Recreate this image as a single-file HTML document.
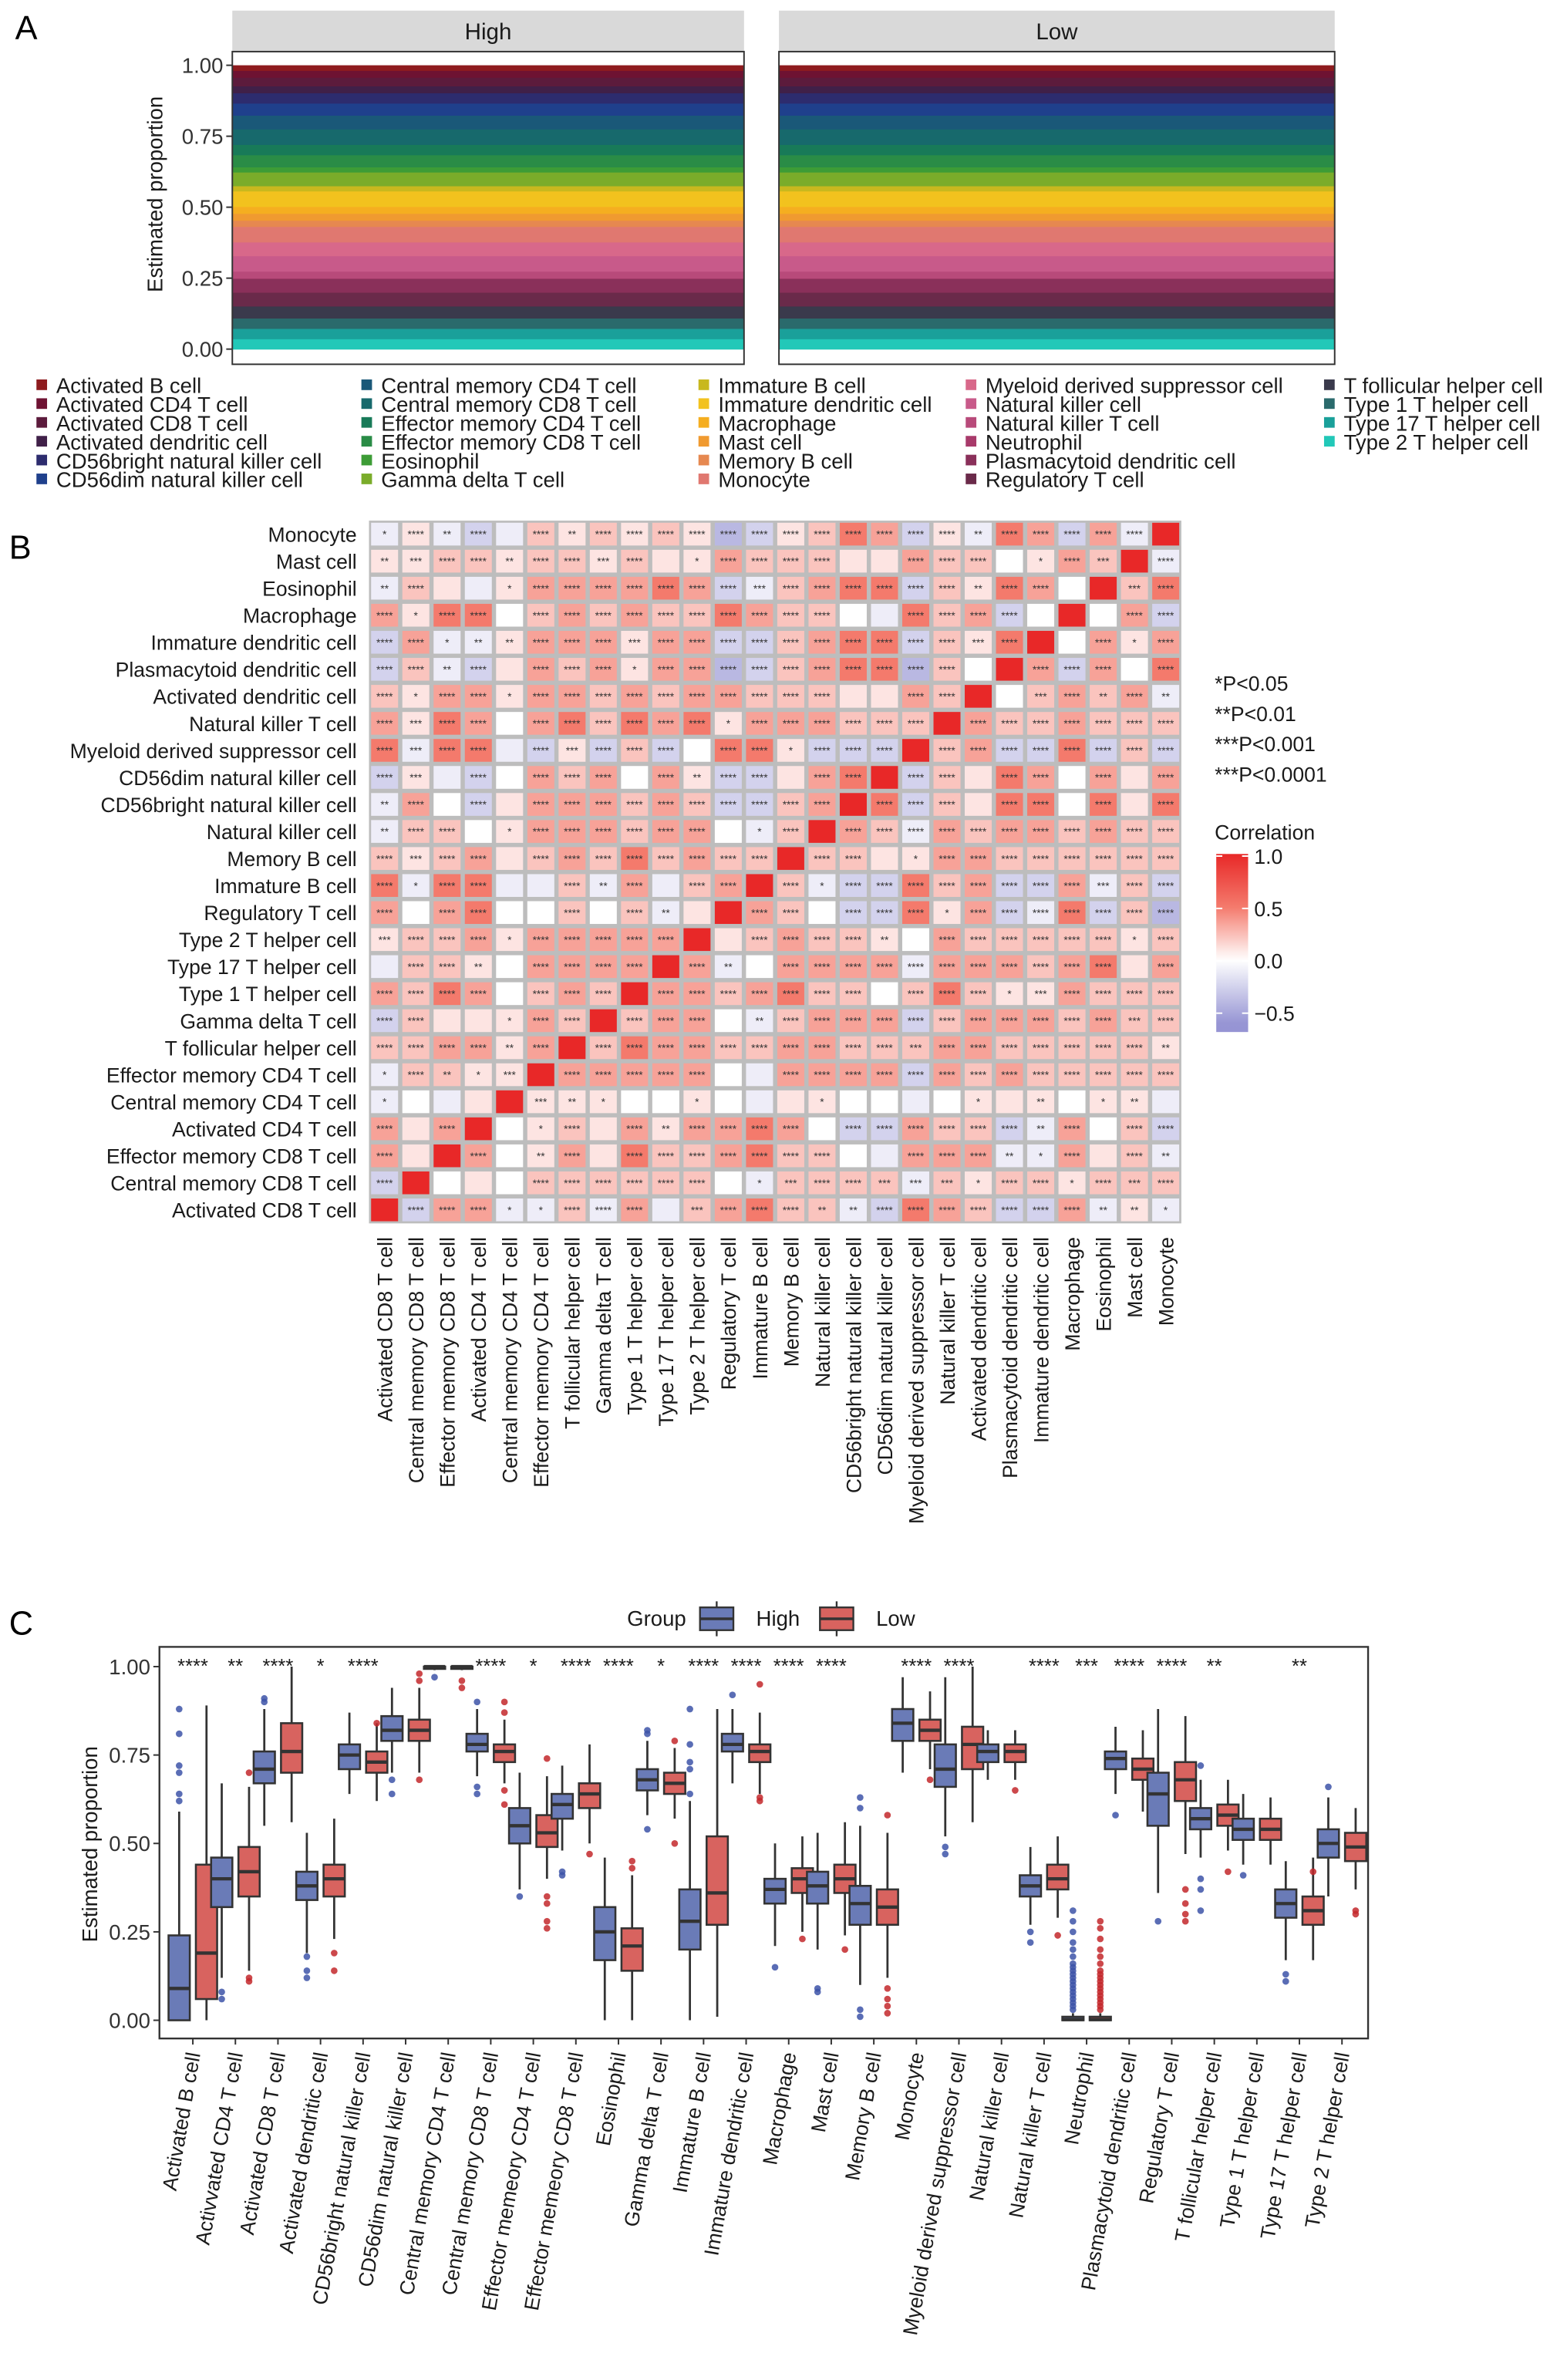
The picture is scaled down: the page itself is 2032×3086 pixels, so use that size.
<!DOCTYPE html>
<html><head><meta charset="utf-8"><style>
html,body{margin:0;padding:0;background:#fff;}
svg{display:block;font-family:"Liberation Sans",sans-serif;}
</style></head><body>
<svg id="root" xmlns="http://www.w3.org/2000/svg" width="2032" height="3086" viewBox="0 0 1032 1568" preserveAspectRatio="none">
<rect x="0" y="0" width="1032" height="1568" fill="#fff"/>
<text x="10" y="26" font-size="22">A</text>
<text x="6" y="368" font-size="22">B</text>
<text x="6" y="1077" font-size="22">C</text>
<g id="panelA"></g>
<g id="panelB"></g>
<g id="panelC"></g>
</svg>
<script>
const NS="http://www.w3.org/2000/svg";
function mk(parent,tag,attrs,text){const e=document.createElementNS(NS,tag);for(const k in attrs)e.setAttribute(k,attrs[k]);if(text!==undefined)e.textContent=text;parent.appendChild(e);return e;}

// ---------- Panel A data ----------
const cellTypes=["Activated B cell","Activated CD4 T cell","Activated CD8 T cell","Activated dendritic cell","CD56bright natural killer cell","CD56dim natural killer cell","Central memory CD4 T cell","Central memory CD8 T cell","Effector memory CD4 T cell","Effector memory CD8 T cell","Eosinophil","Gamma delta T cell","Immature B cell","Immature dendritic cell","Macrophage","Mast cell","Memory B cell","Monocyte","Myeloid derived suppressor cell","Natural killer cell","Natural killer T cell","Neutrophil","Plasmacytoid dendritic cell","Regulatory T cell","T follicular helper cell","Type 1 T helper cell","Type 17 T helper cell","Type 2 T helper cell"];
const cellColors=["#8e1b1e","#6e1232","#5c1b3c","#402048","#2d2c6e","#1f408c","#1a5878","#17696c","#187a58","#2a8c46","#3d9c36","#7aac2a","#c8b81e","#f2c21e","#f5ae20","#f09a30","#e68850","#e07870","#d8688a","#c85a8a","#b84a7a","#a83a6a","#8a305a","#6a2a4a","#3a3a4c","#2a6a6c","#1aa09a","#22c8b8"];
const highProps=[0.015,0.02,0.025,0.02,0.03,0.035,0.04,0.045,0.03,0.035,0.015,0.04,0.015,0.045,0.02,0.02,0.018,0.045,0.04,0.045,0.02,0.001,0.04,0.04,0.035,0.03,0.03,0.03];
const lowProps=[0.015,0.02,0.025,0.02,0.03,0.035,0.04,0.045,0.03,0.035,0.015,0.04,0.015,0.045,0.02,0.02,0.018,0.045,0.04,0.045,0.02,0.001,0.04,0.04,0.035,0.03,0.03,0.03];
const aTicks=[0,0.25,0.5,0.75,1];
const aTickLabels=["0.00","0.25","0.50","0.75","1.00"];

(function(){
const g=document.getElementById('panelA');
const yA=v=>230-v*187;
const panels=[{name:"High",x0:153,x1:490,p:highProps},{name:"Low",x0:513,x1:879,p:lowProps}];
panels.forEach(P=>{
  const s=mk(g,'rect',{x:P.x0,y:7,width:P.x1-P.x0,height:27,fill:'#d9d9d9'});
  
  
  const t=mk(g,'text',{x:(P.x0+P.x1)/2,y:26,'font-size':15,'text-anchor':'middle',fill:'#1a1a1a'},P.name);
  
  
  const tot=P.p.reduce((a,b)=>a+b,0);
  let cum=0;
  for(let i=P.p.length-1;i>=0;i--){
    const v0=cum/tot,v1=(cum+P.p[i])/tot;cum+=P.p[i];
    const r=mk(g,'rect',{x:P.x0,y:yA(v1),width:P.x1-P.x0,height:yA(v0)-yA(v1)+0.3,fill:cellColors[i]});
    
    
  }
  mk(g,'rect',{x:P.x0,y:34,width:P.x1-P.x0,height:206,fill:'none',stroke:'#333','stroke-width':1});
});
aTicks.forEach((v,i)=>{
  mk(g,'line',{x1:149,x2:153,y1:yA(v),y2:yA(v),stroke:'#333'});
  const t=mk(g,'text',{x:147,y:yA(v)+5,'font-size':14,'text-anchor':'end',fill:'#333'},aTickLabels[i]);
  
  
});
const yt=mk(g,'text',{x:0,y:0,'font-size':14,'text-anchor':'middle',transform:'translate(107,128) rotate(-90)',fill:'#1a1a1a'},'Estimated proportion');


const cols=[[24,0,6],[238,6,12],[460,12,18],[636,18,24],[872,24,28]];
cols.forEach(c=>{
  for(let i=c[1];i<c[2];i++){
    const y=254+(i-c[1])*12.4;
    const sq=mk(g,'rect',{x:c[0],y:y-4,width:7,height:7,fill:cellColors[i]});
    
    
    const t=mk(g,'text',{x:c[0]+13,y:y+5,'font-size':14,fill:'#1a1a1a'},cellTypes[i]);
    
    
  }
});
})();

// ---------- Panel B data ----------
const heatRows=["Monocyte","Mast cell","Eosinophil","Macrophage","Immature dendritic cell","Plasmacytoid dendritic cell","Activated dendritic cell","Natural killer T cell","Myeloid derived suppressor cell","CD56dim natural killer cell","CD56bright natural killer cell","Natural killer cell","Memory B cell","Immature B cell","Regulatory T cell","Type 2 T helper cell","Type 17 T helper cell","Type 1 T helper cell","Gamma delta T cell","T follicular helper cell","Effector memory CD4 T cell","Central memory CD4 T cell","Activated CD4 T cell","Effector memory CD8 T cell","Central memory CD8 T cell","Activated CD8 T cell"];
const heatCols=heatRows.slice().reverse();
const corrLevels={D:1,R:0.5,r:0.35,p:0.22,q:0.1,w:0,b:-0.1,B:-0.25,V:-0.4};
const corrCells=[
"b1 q4 b2 B4 b0 p4 q2 p4 q4 p4 q4 V4 B4 q4 p4 R4 r4 B4 q4 b2 R4 r4 B4 r4 b4 D0",
"q2 q3 p4 p4 q2 p4 p4 q3 p4 q0 q1 r4 p4 p4 p4 q0 q0 r4 p4 p4 w0 q1 r4 p3 D0 b4",
"b2 p4 q0 b0 q1 r4 r4 r4 r4 R4 r4 B4 b3 p4 r4 R4 R4 B4 p4 q2 R4 r4 w0 D0 p3 R4",
"r4 q1 R4 R4 w0 p4 r4 p4 r4 p4 p4 R4 r4 p4 p4 w0 b0 R4 p4 r4 B4 w0 D0 w0 r4 B4",
"B4 r4 b1 b2 q2 r4 r4 r4 q3 r4 r4 B4 B4 p4 r4 R4 R4 B4 p4 q3 R4 D0 w0 r4 q1 r4",
"B4 p4 b2 B4 q0 r4 p4 r4 q1 r4 r4 V4 B4 p4 r4 R4 R4 V4 p4 w0 D0 r4 B4 r4 w0 R4",
"p4 q1 r4 r4 q1 r4 r4 p4 r4 p4 r4 r4 p4 p4 p4 q0 q0 r4 p4 D0 w0 p3 r4 p2 r4 b2",
"r4 q3 R4 r4 w0 r4 R4 p4 R4 r4 R4 q1 r4 r4 r4 p4 p4 p4 D0 r4 p4 p4 r4 p4 p4 p4",
"R4 b3 R4 R4 b0 B4 q3 B4 p4 B4 w0 R4 R4 q1 B4 B4 B4 D0 p4 r4 B4 B4 R4 B4 p4 B4",
"B4 q3 b0 B4 w0 r4 p4 r4 w0 r4 q2 B4 B4 q0 r4 R4 D0 B4 p4 q0 R4 r4 w0 r4 q0 r4",
"b2 r4 w0 B4 q0 r4 r4 r4 p4 r4 p4 B4 B4 p4 r4 D0 R4 B4 p4 q0 R4 R4 w0 R4 q0 R4",
"b2 p4 p4 w0 q1 r4 r4 r4 p4 r4 r4 w0 b1 p4 D0 r4 p4 b4 r4 p4 r4 r4 p4 r4 p4 p4",
"p4 q3 p4 r4 q0 p4 r4 p4 R4 p4 r4 p4 p4 D0 p4 p4 q0 q1 r4 r4 p4 p4 p4 p4 p4 p4",
"R4 b1 R4 R4 b0 b0 p4 b2 r4 b0 p4 r4 D0 p4 b1 B4 B4 R4 p4 r4 B4 B4 r4 b3 p4 B4",
"r4 w0 r4 R4 w0 w0 p4 w0 p4 b2 q0 D0 r4 p4 w0 B4 B4 R4 q1 r4 B4 b4 R4 B4 p4 V4",
"q3 p4 p4 r4 q1 r4 r4 r4 r4 r4 D0 q0 p4 r4 p4 p4 q2 w0 r4 p4 p4 p4 p4 p4 q1 p4",
"b0 p4 p4 q2 w0 r4 r4 r4 r4 D0 r4 b2 w0 r4 r4 r4 r4 b4 r4 r4 r4 p4 r4 R4 q0 r4",
"r4 p4 R4 r4 w0 p4 r4 p4 D0 r4 r4 p4 r4 R4 p4 p4 w0 p4 R4 p4 q1 q3 r4 p4 p4 p4",
"B4 p4 q0 q0 q1 r4 p4 D0 p4 r4 r4 w0 b2 p4 r4 r4 r4 B4 p4 r4 r4 r4 p4 r4 p3 p4",
"p4 p4 r4 r4 q2 r4 D0 p4 R4 r4 r4 p4 p4 r4 r4 p4 p4 p3 r4 r4 p4 p4 p4 p4 p4 q2",
"b1 p4 p2 q1 q3 D0 r4 r4 r4 r4 r4 w0 b0 r4 r4 r4 r4 B4 r4 p4 r4 p4 p4 p4 p4 p4",
"b1 w0 b0 q0 D0 q3 q2 q1 w0 w0 q1 w0 b0 q0 q1 w0 w0 b0 w0 q1 q0 q2 w0 q1 q2 b0",
"r4 q0 r4 D0 w0 q1 p4 q0 r4 q2 r4 r4 R4 r4 w0 B4 B4 r4 p4 p4 B4 b2 r4 w0 p4 B4",
"r4 q0 D0 r4 w0 q2 r4 q0 R4 p4 p4 r4 R4 p4 p4 w0 b0 r4 r4 r4 b2 b1 r4 q0 p4 b2",
"B4 D0 w0 q0 w0 p4 p4 p4 p4 p4 p4 w0 b1 p3 p4 p4 p3 b3 p3 q1 p4 p4 q1 p4 p3 p4",
"D0 B4 r4 r4 b1 b1 p4 b4 r4 b0 p3 r4 R4 p4 p2 b2 B4 R4 r4 p4 B4 B4 r4 b2 q2 b1"];
const sigNotes=["*P<0.05","**P<0.01","***P<0.001"," ***P<0.0001"];
const cbTicks=[1,0.5,0,-0.5];
const cbTickLabels=["1.0","0.5","0.0","\u22120.5"];

function corrColor(v){
  const lerp=(a,b,t)=>Math.round(a+(b-a)*t);
  if(v>=0){const t=Math.min(v,1);
    let c0,c1,tt;
    if(t<0.5){c0=[255,255,255];c1=[244,122,108];tt=t/0.5;}else{c0=[244,122,108];c1=[232,40,40];tt=(t-0.5)/0.5;}
    return `rgb(${lerp(c0[0],c1[0],tt)},${lerp(c0[1],c1[1],tt)},${lerp(c0[2],c1[2],tt)})`;}
  const t=Math.min(-v/0.6,1);
  return `rgb(${lerp(255,150,t)},${lerp(255,148,t)},${lerp(255,212,t)})`;
}
(function(){
const g=document.getElementById('panelB');
const x0=243,y0=343,W=535,H=463,n=heatRows.length,cw=W/n,ch=H/n;
const bg=mk(g,'rect',{x:x0,y:y0,width:W,height:H,fill:'#bdbdbd'});


corrCells.forEach((row,i)=>{
  row.split(' ').forEach((tok,j)=>{
    const v=corrLevels[tok[0]],stars=+tok[1];
    const r=mk(g,'rect',{x:x0+j*cw+1.4,y:y0+i*ch+1.4,width:cw-2.8,height:ch-2.8,fill:corrColor(v)});
    
    
    if(stars>0){
      const t=mk(g,'text',{x:x0+(j+0.5)*cw,y:y0+(i+0.5)*ch+2.6,'font-size':7,'text-anchor':'middle',fill:'#333'},'*'.repeat(stars));
      
      
    }
  });
});
heatRows.forEach((nm,i)=>{
  const t=mk(g,'text',{x:235,y:y0+(i+0.5)*ch+5,'font-size':13.5,'text-anchor':'end',fill:'#1a1a1a'},nm);
  
  
});
heatCols.forEach((nm,j)=>{
  const cx=x0+(j+0.5)*cw+5;
  const t=mk(g,'text',{x:0,y:0,'font-size':13.5,'text-anchor':'end',fill:'#1a1a1a',transform:`translate(${cx},815) rotate(-90)`},nm);
  
  
});
sigNotes.forEach((s,i)=>{
  const t=mk(g,'text',{x:800,y:455+i*20,'font-size':13.5,fill:'#1a1a1a','xml:space':'preserve'},s);
  
  
});
const lt=mk(g,'text',{x:800,y:553,'font-size':13.5,fill:'#1a1a1a'},'Correlation');


const defs=mk(g,'defs',{});
const lg=mk(defs,'linearGradient',{id:'cb',x1:0,y1:0,x2:0,y2:1});
const yc=v=>633-v*69;
const vmin=-0.68;
for(let k=0;k<=20;k++){const v=1-(1-vmin)*k/20;mk(lg,'stop',{offset:k/20,'stop-color':corrColor(v)});}
const cb=mk(g,'rect',{x:801,y:yc(1.02),width:21,height:yc(vmin)-yc(1.02),fill:'url(#cb)'});


cbTicks.forEach((v,i)=>{
  mk(g,'line',{x1:801,x2:805,y1:yc(v),y2:yc(v),stroke:'#fff'});
  mk(g,'line',{x1:818,x2:822,y1:yc(v),y2:yc(v),stroke:'#fff'});
  const t=mk(g,'text',{x:826,y:yc(v)+5,'font-size':13.5,fill:'#1a1a1a'},cbTickLabels[i]);
  
  
});
})();

// ---------- Panel C data ----------
const boxCategories=["Activated B cell","Activvated CD4 T cell","Activated CD8 T cell","Activated dendritic cell","CD56bright natural killer cell","CD56dim natural killer cell","Central memory CD4 T cell","Central memory CD8 T cell","Effector memeory CD4 T cell","Effector memeory CD8 T cell","Eosinophil","Gamma delta T cell","Immature B cell","Immature dendritic cell","Macrophage","Mast cell","Memory B cell","Monocyte","Myeloid derived suppressor cell","Natural killer cell","Natural killer T cell","Neutrophil","Plasmacytoid dendritic cell","Regulatory T cell","T follicular helper cell","Type 1 T helper cell","Type 17 T helper cell","Type 2 T helper cell"];
// [whiskerLow, q1, median, q3, whiskerHigh]
const highStats=[[0,0,0.09,0.24,0.59],[0.12,0.32,0.40,0.46,0.67],[0.55,0.67,0.71,0.76,0.88],[0.19,0.34,0.38,0.42,0.53],[0.64,0.71,0.75,0.78,0.87],[0.70,0.79,0.82,0.86,0.94],[0.99,0.995,1,1,1],[0.69,0.76,0.78,0.81,0.88],[0.37,0.50,0.55,0.60,0.70],[0.48,0.57,0.61,0.64,0.72],[0,0.17,0.25,0.32,0.46],[0.58,0.65,0.68,0.71,0.79],[0,0.20,0.28,0.37,0.62],[0.67,0.76,0.78,0.81,0.88],[0.21,0.33,0.37,0.40,0.50],[0.20,0.33,0.38,0.42,0.53],[0.10,0.27,0.33,0.38,0.55],[0.70,0.79,0.84,0.88,0.97],[0.52,0.66,0.71,0.78,0.97],[0.68,0.73,0.76,0.78,0.82],[0.27,0.35,0.38,0.41,0.49],[0,0,0.002,0.01,0.02],[0.64,0.71,0.74,0.76,0.83],[0.36,0.55,0.64,0.70,0.88],[0.46,0.54,0.57,0.60,0.68],[0.44,0.51,0.54,0.57,0.64],[0.17,0.29,0.33,0.37,0.45],[0.35,0.46,0.50,0.54,0.63]];
const lowStats=[[0,0.06,0.19,0.44,0.89],[0.14,0.35,0.42,0.49,0.66],[0.56,0.70,0.76,0.84,1.0],[0.23,0.35,0.40,0.44,0.57],[0.62,0.70,0.73,0.76,0.84],[0.70,0.79,0.82,0.85,0.94],[0.99,0.995,1,1,1],[0.67,0.73,0.76,0.78,0.85],[0.40,0.49,0.53,0.58,0.69],[0.50,0.60,0.64,0.67,0.78],[0,0.14,0.21,0.26,0.41],[0.57,0.64,0.67,0.70,0.77],[0.01,0.27,0.36,0.52,0.88],[0.64,0.73,0.76,0.78,0.87],[0.25,0.36,0.40,0.43,0.52],[0.24,0.36,0.40,0.44,0.56],[0.12,0.27,0.32,0.37,0.53],[0.71,0.79,0.82,0.85,0.93],[0.56,0.71,0.78,0.83,1.0],[0.68,0.73,0.76,0.78,0.82],[0.29,0.37,0.40,0.44,0.52],[0,0,0.002,0.01,0.02],[0.59,0.68,0.71,0.74,0.82],[0.47,0.62,0.68,0.73,0.86],[0.48,0.55,0.58,0.61,0.68],[0.44,0.51,0.54,0.57,0.63],[0.17,0.27,0.31,0.35,0.46],[0.37,0.45,0.49,0.53,0.60]];
const highOutliers=[[0.62,0.64,0.70,0.72,0.81,0.88],[0.06,0.08],[0.90,0.91],[0.12,0.14,0.18],[],[0.64,0.68],[0.97],[0.64,0.66,0.90],[0.35],[0.41,0.42],[],[0.54,0.81,0.82],[0.64,0.71,0.73,0.78,0.88],[0.92],[0.15],[0.08,0.09],[0.01,0.03,0.60,0.63],[],[0.47,0.49],[],[0.22,0.25],[0.03,0.04,0.05,0.06,0.07,0.08,0.09,0.10,0.11,0.12,0.13,0.14,0.15,0.16,0.18,0.20,0.22,0.25,0.28,0.31],[0.58],[0.28],[0.31,0.37,0.40,0.72],[0.41],[0.11,0.13],[0.66]];
const lowOutliers=[[],[0.11,0.12,0.70],[],[0.14,0.19],[0.84],[0.68,0.96,0.98],[0.94,0.96],[0.61,0.65,0.87,0.90],[0.26,0.28,0.33,0.35,0.74],[0.47],[0.43,0.45],[0.50,0.79],[],[0.62,0.63,0.95],[0.23],[0.20],[0.02,0.04,0.06,0.09,0.58],[0.68],[],[0.65],[0.24],[0.03,0.04,0.05,0.06,0.07,0.08,0.09,0.10,0.11,0.12,0.13,0.14,0.16,0.18,0.20,0.23,0.26,0.28],[],[0.28,0.30,0.33,0.37],[0.42],[],[0.42],[0.30,0.31]];
const sigLabels=["****","**","****","*","****","","","****","*","****","****","*","****","****","****","****","","****","****","","****","***","****","****","**","","**",""];
const cTicks=[0,0.25,0.5,0.75,1];
const cTickLabels=["0.00","0.25","0.50","0.75","1.00"];

(function(){
const g=document.getElementById('panelC');
const yC=v=>1331-v*233;
const xC=i=>127+i*28.03;
const frame=mk(g,'rect',{x:105,y:1085,width:796,height:258,fill:'none',stroke:'#333','stroke-width':1.2});


cTicks.forEach((v,i)=>{
  mk(g,'line',{x1:101,x2:105,y1:yC(v),y2:yC(v),stroke:'#333'});
  const t=mk(g,'text',{x:99,y:yC(v)+5,'font-size':14,'text-anchor':'end',fill:'#333'},cTickLabels[i]);
  
  
});
const yt=mk(g,'text',{x:0,y:0,'font-size':14,'text-anchor':'middle',fill:'#1a1a1a',transform:'translate(64,1215) rotate(-90)'},'Estimated proportion');


const groups=[{st:highStats,out:highOutliers,fill:'#6a7bb7',pt:'#3d54a8',off:-9,name:'high'},{st:lowStats,out:lowOutliers,fill:'#d8635f',pt:'#c3282b',off:9,name:'low'}];
boxCategories.forEach((c,i)=>{
  const cx=xC(i);
  groups.forEach(G=>{
    const s=G.st[i],x=cx+G.off,bw=14;
    const wl=mk(g,'line',{x1:x,x2:x,y1:yC(s[0]),y2:yC(s[4]),stroke:'#333','stroke-width':1.4});
    
    
    G.out[i].forEach(v=>{
      const p=mk(g,'circle',{cx:x,cy:yC(v),r:2.2,fill:G.pt,opacity:0.85});
      
      
    });
    const b=mk(g,'rect',{x:x-bw/2,y:yC(s[3]),width:bw,height:Math.max(yC(s[1])-yC(s[3]),1.5),fill:G.fill,stroke:'#333','stroke-width':1.3});
    
    
    const m=mk(g,'line',{x1:x-bw/2,x2:x+bw/2,y1:yC(s[2]),y2:yC(s[2]),stroke:'#333','stroke-width':2.2});
    
    
  });
  if(sigLabels[i]){
    const t=mk(g,'text',{x:cx,y:1102,'font-size':13,'text-anchor':'middle',fill:'#1a1a1a'},sigLabels[i]);
    
    
  }
  mk(g,'line',{x1:cx,x2:cx,y1:1343,y2:1347,stroke:'#333'});
  const t=mk(g,'text',{x:0,y:0,'font-size':13.5,'text-anchor':'end',fill:'#1a1a1a',transform:`translate(${cx+5},1353) rotate(-80)`},c);
  
  
});
const lt=mk(g,'text',{x:413,y:1071,'font-size':14,fill:'#1a1a1a'},'Group');


[{x:472,fill:'#6a7bb7',lab:'High'},{x:551,fill:'#d8635f',lab:'Low'}].forEach(L=>{
  mk(g,'line',{x1:L.x,x2:L.x,y1:1055,y2:1078,stroke:'#333','stroke-width':1.2});
  const r=mk(g,'rect',{x:L.x-11,y:1059,width:22,height:15,fill:L.fill,stroke:'#333','stroke-width':1.2});
  
  
  mk(g,'line',{x1:L.x-11,x2:L.x+11,y1:1066.5,y2:1066.5,stroke:'#333','stroke-width':1.8});
  const t=mk(g,'text',{x:L.x+26,y:1071,'font-size':14,fill:'#1a1a1a'},L.lab);
  
  
});
})();
</script>
</body></html>
